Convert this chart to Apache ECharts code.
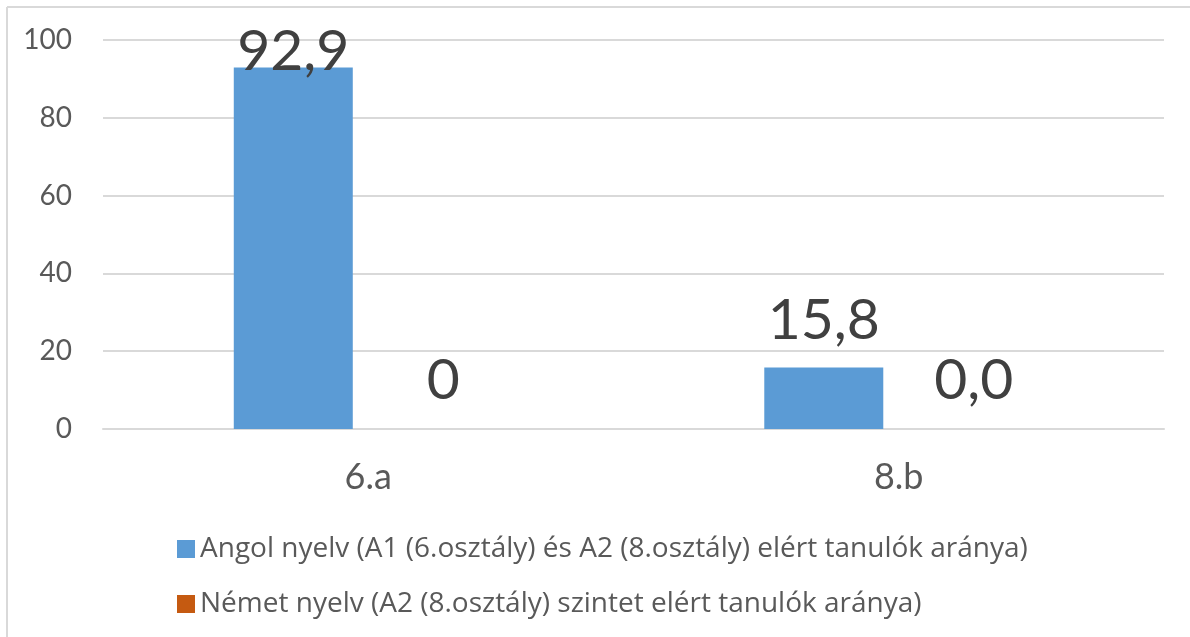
<!DOCTYPE html>
<html>
<head>
<meta charset="utf-8">
<script src="https://cdn.jsdelivr.net/npm/echarts@6/dist/echarts.min.js"></script>
<style>
  html, body { margin: 0; padding: 0; background: #fff; }
  #chart { width: 1190px; height: 637px; }
</style>
</head>
<body>
<div id="chart"></div>
<script>
// data
var categories = ['6.a', '8.b'];
var seriesNames = [
  'Angol nyelv (A1 (6.osztály) és A2 (8.osztály) elért tanulók aránya)',
  'Német nyelv (A2 (8.osztály) szintet elért tanulók aránya)'
];
var angolValues = [92.9, 15.8];
var nemetValues = [0, 0];
var angolLabels = ['92,9', '15,8'];
var nemetLabels = ['0', '0,0'];
var yTicks = [0, 20, 40, 60, 80, 100];

var FONT = 'Lato, "Open Sans", sans-serif';
var LEGEND_FONT = '"Open Sans", Lato, sans-serif';

function buildData(values, labels) {
  return values.map(function (v, i) {
    var item = { value: v, labelText: labels[i] };
    // label of the tall bar sits clamped at the plot top, overlapping the bar
    if (v > 90) {
      item.label = { distance: -13 };
    }
    return item;
  });
}

var chart = echarts.init(document.getElementById('chart'));
chart.setOption({
  animation: false,
  textStyle: { fontFamily: FONT },
  graphic: [
    { type: 'line', shape: { x1: 7, y1: 7, x2: 1190, y2: 7 }, style: { stroke: '#d9d9d9', lineWidth: 2 } },
    { type: 'line', shape: { x1: 7, y1: 7, x2: 7, y2: 637 }, style: { stroke: '#d9d9d9', lineWidth: 2 } }
  ],
  grid: { left: 103, right: 26, top: 40, bottom: 208, containLabel: false },
  legend: {
    orient: 'vertical',
    left: 172,
    top: 530,
    itemWidth: 18,
    itemHeight: 18,
    itemGap: 27,
    icon: 'rect',
    textStyle: { fontSize: 28, color: '#595959', fontFamily: LEGEND_FONT },
    data: seriesNames
  },
  xAxis: {
    type: 'category',
    data: categories,
    axisTick: { show: false },
    axisLine: { lineStyle: { color: '#d9d9d9', width: 2 } },
    axisLabel: { fontSize: 36, color: '#595959', margin: 30, fontFamily: FONT }
  },
  yAxis: {
    type: 'value',
    min: yTicks[0],
    max: yTicks[yTicks.length - 1],
    interval: yTicks[1] - yTicks[0],
    axisLine: { show: false },
    axisTick: { show: false },
    axisLabel: { fontSize: 28, color: '#595959', margin: 31, fontFamily: FONT },
    splitLine: { lineStyle: { color: '#d9d9d9', width: 2 } }
  },
  series: [
    {
      name: seriesNames[0],
      type: 'bar',
      barWidth: 119,
      barGap: '26%',
      itemStyle: { color: '#5b9bd5' },
      label: {
        show: true,
        position: 'top',
        distance: 18,
        fontSize: 57,
        color: '#404040',
        fontFamily: FONT,
        formatter: function (p) { return p.data.labelText; }
      },
      data: buildData(angolValues, angolLabels)
    },
    {
      name: seriesNames[1],
      type: 'bar',
      barWidth: 119,
      barGap: '26%',
      itemStyle: { color: '#c55a11' },
      label: {
        show: true,
        position: 'top',
        distance: 20,
        fontSize: 57,
        color: '#404040',
        fontFamily: FONT,
        formatter: function (p) { return p.data.labelText; }
      },
      data: buildData(nemetValues, nemetLabels)
    }
  ]
});
</script>
</body>
</html>
